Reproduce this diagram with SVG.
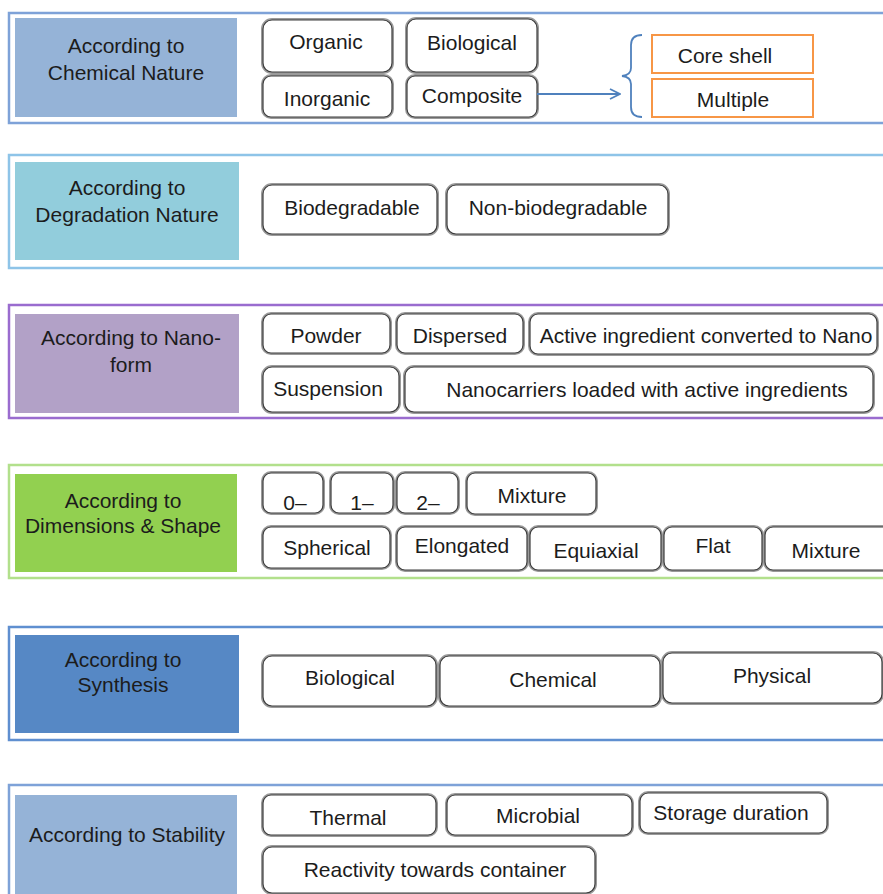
<svg xmlns="http://www.w3.org/2000/svg" width="883" height="894" viewBox="0 0 883 894">
  <style>
    text { font-family: "Liberation Sans", Arial, sans-serif; font-size: 21px; fill: #1c1c1c; text-anchor: middle; }
    .frame { fill: none; stroke-width: 2.5; }
    .nbo { fill: #fff; stroke: #9a9a9a; stroke-width: 4; }
    .nbi { fill: #fff; stroke: #3c3c3c; stroke-width: 1.2; }
    .orange { fill: #fff; stroke: #f79646; stroke-width: 2; }
    .link { fill: none; stroke: #4f81bd; stroke-width: 1.8; }
  </style>
  <defs>
    <marker id="arrow" viewBox="0 0 12 12" refX="11" refY="6" markerWidth="12" markerHeight="12" markerUnits="userSpaceOnUse" orient="auto">
      <path d="M1,1 L11,6 L1,11" fill="none" stroke="#4f81bd" stroke-width="1.8"/>
    </marker>
  </defs>
  <rect width="883" height="894" fill="#fff"/>

  <!-- section frames -->
  <g id="frames">
    <rect class="frame" x="9" y="13" width="900" height="110" stroke="#7ea2d8"/>
    <rect class="frame" x="9" y="155" width="900" height="113" stroke="#8ec4e8"/>
    <rect class="frame" x="9" y="305" width="900" height="113" stroke="#9a6ccf"/>
    <rect class="frame" x="9" y="465" width="900" height="113" stroke="#b2e08c"/>
    <rect class="frame" x="9" y="627" width="900" height="113" stroke="#5f8fd0"/>
    <rect class="frame" x="9" y="785" width="900" height="140" stroke="#7ea2d8"/>
  </g>

  <!-- category labels -->
  <g id="cat-chemical">
    <rect x="15" y="18" width="222" height="99" fill="#95b3d7"/>
    <text x="126" y="53">According to</text>
    <text x="126" y="80">Chemical Nature</text>
  </g>
  <g id="cat-degradation">
    <rect x="15" y="162" width="224" height="98" fill="#92cddc"/>
    <text x="127" y="195">According to</text>
    <text x="127" y="222">Degradation Nature</text>
  </g>
  <g id="cat-nanoform">
    <rect x="15" y="314" width="224" height="99" fill="#b2a1c7"/>
    <text x="131" y="345">According to Nano-</text>
    <text x="131" y="372">form</text>
  </g>
  <g id="cat-dimensions">
    <rect x="15" y="474" width="222" height="98" fill="#92d050"/>
    <text x="123" y="508">According to</text>
    <text x="123" y="533">Dimensions &amp; Shape</text>
  </g>
  <g id="cat-synthesis">
    <rect x="15" y="635" width="224" height="98" fill="#5688c5"/>
    <text x="123" y="667">According to</text>
    <text x="123" y="692">Synthesis</text>
  </g>
  <g id="cat-stability">
    <rect x="15" y="795" width="222" height="110" fill="#95b3d7"/>
    <text x="127" y="842">According to Stability</text>
  </g>

  <!-- chemical nature -->
  <g id="n-organic"><rect class="nbo" x="263" y="20" width="129" height="52" rx="9"/><rect class="nbi" x="263" y="20" width="129" height="52" rx="9"/><text x="326" y="49">Organic</text></g>
  <g id="n-biological1"><rect class="nbo" x="407" y="19" width="130" height="53" rx="9"/><rect class="nbi" x="407" y="19" width="130" height="53" rx="9"/><text x="472" y="50">Biological</text></g>
  <g id="n-inorganic"><rect class="nbo" x="263" y="76" width="129" height="41" rx="8"/><rect class="nbi" x="263" y="76" width="129" height="41" rx="8"/><text x="327" y="106">Inorganic</text></g>
  <g id="n-composite"><rect class="nbo" x="407" y="76" width="130" height="41" rx="8"/><rect class="nbi" x="407" y="76" width="130" height="41" rx="8"/><text x="472" y="103">Composite</text></g>
  <g id="n-coreshell"><rect class="orange" x="652" y="35" width="161" height="38"/><text x="725" y="63">Core shell</text></g>
  <g id="n-multiple"><rect class="orange" x="652" y="79" width="161" height="38"/><text x="733" y="107">Multiple</text></g>

  <g id="connectors">
    <path class="link" d="M537,94 L620,94" marker-end="url(#arrow)"/>
    <path class="link" d="M642,35 Q631,35 631,45 L631,68 Q631,75 622,76 Q631,77 631,84 L631,107 Q631,117 642,117"/>
  </g>

  <!-- degradation -->
  <g id="n-biodegradable"><rect class="nbo" x="263" y="185" width="174" height="49" rx="9"/><rect class="nbi" x="263" y="185" width="174" height="49" rx="9"/><text x="352" y="215">Biodegradable</text></g>
  <g id="n-nonbiodegradable"><rect class="nbo" x="447" y="185" width="221" height="49" rx="9"/><rect class="nbi" x="447" y="185" width="221" height="49" rx="9"/><text x="558" y="215">Non-biodegradable</text></g>

  <!-- nano-form -->
  <g id="n-powder"><rect class="nbo" x="263" y="314" width="127" height="39" rx="8"/><rect class="nbi" x="263" y="314" width="127" height="39" rx="8"/><text x="326" y="343">Powder</text></g>
  <g id="n-dispersed"><rect class="nbo" x="397" y="314" width="126" height="39" rx="8"/><rect class="nbi" x="397" y="314" width="126" height="39" rx="8"/><text x="460" y="343">Dispersed</text></g>
  <g id="n-active"><rect class="nbo" x="530" y="314" width="347" height="40" rx="8"/><rect class="nbi" x="530" y="314" width="347" height="40" rx="8"/><text x="706" y="343">Active ingredient converted to Nano</text></g>
  <g id="n-suspension"><rect class="nbo" x="263" y="367" width="136" height="45" rx="9"/><rect class="nbi" x="263" y="367" width="136" height="45" rx="9"/><text x="328" y="396">Suspension</text></g>
  <g id="n-nanocarriers"><rect class="nbo" x="405" y="367" width="468" height="45" rx="9"/><rect class="nbi" x="405" y="367" width="468" height="45" rx="9"/><text x="647" y="397">Nanocarriers loaded with active ingredients</text></g>

  <!-- dimensions & shape -->
  <g id="n-0d"><rect class="nbo" x="263" y="473" width="60" height="40" rx="8"/><rect class="nbi" x="263" y="473" width="60" height="40" rx="8"/><text x="295" y="510">0–</text></g>
  <g id="n-1d"><rect class="nbo" x="331" y="473" width="62" height="40" rx="8"/><rect class="nbi" x="331" y="473" width="62" height="40" rx="8"/><text x="362" y="510">1–</text></g>
  <g id="n-2d"><rect class="nbo" x="397" y="473" width="61" height="40" rx="8"/><rect class="nbi" x="397" y="473" width="61" height="40" rx="8"/><text x="428" y="510">2–</text></g>
  <g id="n-mixture1"><rect class="nbo" x="467" y="473" width="129" height="41" rx="8"/><rect class="nbi" x="467" y="473" width="129" height="41" rx="8"/><text x="532" y="503">Mixture</text></g>
  <g id="n-spherical"><rect class="nbo" x="263" y="527" width="127" height="41" rx="8"/><rect class="nbi" x="263" y="527" width="127" height="41" rx="8"/><text x="327" y="555">Spherical</text></g>
  <g id="n-elongated"><rect class="nbo" x="397" y="527" width="130" height="43" rx="8"/><rect class="nbi" x="397" y="527" width="130" height="43" rx="8"/><text x="462" y="553">Elongated</text></g>
  <g id="n-equiaxial"><rect class="nbo" x="530" y="527" width="131" height="43" rx="8"/><rect class="nbi" x="530" y="527" width="131" height="43" rx="8"/><text x="596" y="558">Equiaxial</text></g>
  <g id="n-flat"><rect class="nbo" x="664" y="527" width="98" height="43" rx="8"/><rect class="nbi" x="664" y="527" width="98" height="43" rx="8"/><text x="713" y="553">Flat</text></g>
  <g id="n-mixture2"><rect class="nbo" x="765" y="527" width="130" height="43" rx="8"/><rect class="nbi" x="765" y="527" width="130" height="43" rx="8"/><text x="826" y="558">Mixture</text></g>

  <!-- synthesis -->
  <g id="n-biological2"><rect class="nbo" x="263" y="656" width="173" height="50" rx="9"/><rect class="nbi" x="263" y="656" width="173" height="50" rx="9"/><text x="350" y="685">Biological</text></g>
  <g id="n-chemical"><rect class="nbo" x="440" y="656" width="220" height="50" rx="9"/><rect class="nbi" x="440" y="656" width="220" height="50" rx="9"/><text x="553" y="687">Chemical</text></g>
  <g id="n-physical"><rect class="nbo" x="663" y="653" width="219" height="50" rx="9"/><rect class="nbi" x="663" y="653" width="219" height="50" rx="9"/><text x="772" y="683">Physical</text></g>

  <!-- stability -->
  <g id="n-thermal"><rect class="nbo" x="263" y="795" width="173" height="40" rx="8"/><rect class="nbi" x="263" y="795" width="173" height="40" rx="8"/><text x="348" y="825">Thermal</text></g>
  <g id="n-microbial"><rect class="nbo" x="447" y="795" width="185" height="40" rx="8"/><rect class="nbi" x="447" y="795" width="185" height="40" rx="8"/><text x="538" y="823">Microbial</text></g>
  <g id="n-storage"><rect class="nbo" x="640" y="793" width="187" height="40" rx="8"/><rect class="nbi" x="640" y="793" width="187" height="40" rx="8"/><text x="731" y="820">Storage duration</text></g>
  <g id="n-reactivity"><rect class="nbo" x="263" y="847" width="332" height="46" rx="9"/><rect class="nbi" x="263" y="847" width="332" height="46" rx="9"/><text x="435" y="877">Reactivity towards container</text></g>
</svg>
